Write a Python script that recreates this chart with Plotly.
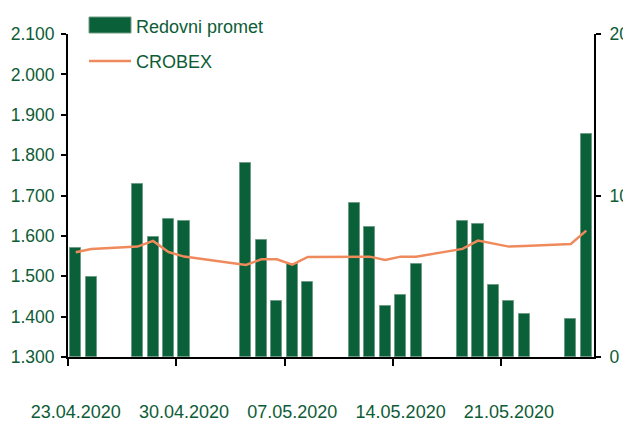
import plotly.graph_objects as go

# ---- data ----
dates = ["2020-04-23", "2020-04-24", "2020-04-27", "2020-04-28", "2020-04-29", "2020-04-30",
         "2020-05-04", "2020-05-05", "2020-05-06", "2020-05-07", "2020-05-08",
         "2020-05-11", "2020-05-12", "2020-05-13", "2020-05-14", "2020-05-15",
         "2020-05-18", "2020-05-19", "2020-05-20", "2020-05-21", "2020-05-22",
         "2020-05-25", "2020-05-26"]
redovni_promet = [6.77, 4.98, 10.70, 7.42, 8.55, 8.41,
                  12.0, 7.25, 3.47, 5.74, 4.63,
                  9.56, 8.08, 3.16, 3.82, 5.76,
                  8.41, 8.24, 4.48, 3.49, 2.67,
                  2.34, 13.80]
crobex = [1559.5, 1567.7, 1573.4, 1587.6, 1560.0, 1548.7,
          1528.0, 1542.0, 1542.0, 1528.9, 1547.9,
          1548.6, 1548.6, 1540.5, 1548.6, 1548.6,
          1567.7, 1588.3, 1580.0, 1573.4, 1575.0,
          1580.0, 1613.0]
x_tick_vals = ["2020-04-23", "2020-04-30", "2020-05-07", "2020-05-14", "2020-05-21"]
x_tick_text = ["23.04.2020", "30.04.2020", "07.05.2020", "14.05.2020", "21.05.2020"]
series_names = ["Redovni promet", "CROBEX"]

GREEN = "#0a6139"
TEXT = "#0d5c36"
ORANGE = "#ef8a5c"
FONT = "Liberation Sans, Arial, sans-serif"
FS = 18
FSY = 17.5
DAY = 86400000

# page body has an 8px margin: figure coords = screen coords - 8
OFF = 8
FIG_W, FIG_H = 623, 416

fig = go.Figure()
fig.add_trace(go.Bar(
    x=dates, y=redovni_promet, name=series_names[0], yaxis="y",
    width=0.72 * DAY,
    marker=dict(color=GREEN, line=dict(color="#6f9c85", width=1)),
    showlegend=False,
))
fig.add_trace(go.Scatter(
    x=dates, y=crobex, name=series_names[1], yaxis="y2", mode="lines",
    line=dict(color=ORANGE, width=2.5),
    showlegend=False,
))

# plot-area geometry in screen pixels (for legend placement)
L, R, T, B = 68, 594, 34, 357
W, H = R - L, B - T
def px(x):
    return (x - L) / W
def py(y):
    return (B - y) / H

shapes = [
    dict(type="rect", xref="paper", yref="paper",
         x0=px(89), x1=px(131), y0=py(33), y1=py(17),
         fillcolor=GREEN, line=dict(color="#6f9c85", width=1)),
    dict(type="line", xref="paper", yref="paper",
         x0=px(89), x1=px(131), y0=py(61), y1=py(61),
         line=dict(color=ORANGE, width=2.5)),
]
annotations = [
    dict(xref="paper", yref="paper", x=px(134), y=py(27), text=series_names[0],
         showarrow=False, xanchor="left", yanchor="middle",
         font=dict(family=FONT, size=FS, color=TEXT)),
    dict(xref="paper", yref="paper", x=px(134), y=py(62), text=series_names[1],
         showarrow=False, xanchor="left", yanchor="middle",
         font=dict(family=FONT, size=FS, color=TEXT)),
]

fig.update_layout(
    width=FIG_W, height=FIG_H,
    margin=dict(l=L - OFF, r=FIG_W - (R - OFF), t=T - OFF, b=FIG_H - (B - OFF),
                autoexpand=False),
    paper_bgcolor="white", plot_bgcolor="white",
    separators=",.",
    bargap=0,
    font=dict(family=FONT, size=FS, color=TEXT),
    xaxis=dict(
        type="date",
        range=["2020-04-22 12:00", "2020-05-26 12:00"],
        tickmode="array", tickvals=x_tick_vals, ticktext=x_tick_text,
        tickangle=0, automargin=False,
        ticks="", showgrid=False, zeroline=False,
        showline=True, linecolor="black", linewidth=2,
        ticklabelstandoff=37,
        tickfont=dict(family=FONT, size=FS, color=TEXT),
        minor=dict(ticks="outside", ticklen=7, tickwidth=1.5, tickcolor="black",
                   tick0="2020-04-22 12:00", dtick=7 * DAY, showgrid=False),
    ),
    yaxis=dict(
        side="right", range=[0, 20], dtick=10, tickformat="d",
        ticks="outside", ticklen=5, tickwidth=2, tickcolor="black",
        showline=True, linecolor="black", linewidth=2,
        showgrid=False, zeroline=False, automargin=False,
        ticklabelstandoff=5,
        tickfont=dict(family=FONT, size=FSY, color=TEXT),
    ),
    yaxis2=dict(
        side="left", overlaying="y", range=[1300, 2100], dtick=100,
        tickformat=",.0f", automargin=False,
        ticks="outside", ticklen=5, tickwidth=2, tickcolor="black",
        showline=True, linecolor="black", linewidth=2,
        showgrid=False, zeroline=False,
        ticklabelstandoff=3,
        tickfont=dict(family=FONT, size=FSY, color=TEXT),
    ),
    shapes=shapes,
    annotations=annotations,
)

fig.write_html("out.html")
